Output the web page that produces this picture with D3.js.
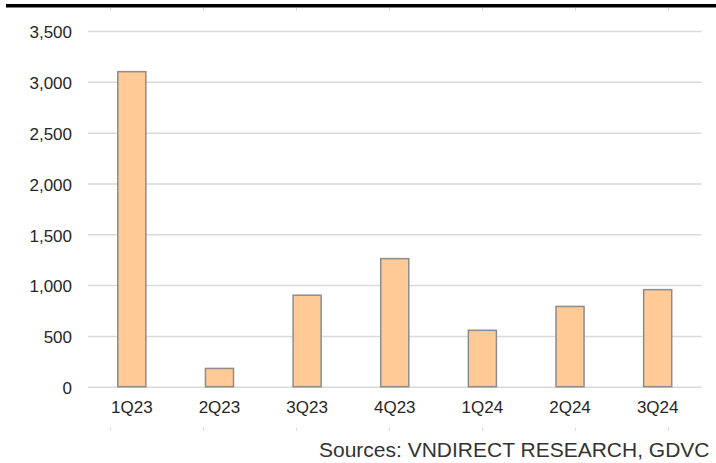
<!DOCTYPE html>
<html>
<head>
<meta charset="utf-8">
<script src="https://cdn.jsdelivr.net/npm/d3@7"></script>
<style>
  html, body { margin: 0; padding: 0; background: #fff; }
  svg { display: block; }
  text { font-family: "Liberation Sans", Arial, sans-serif; }
</style>
</head>
<body>
<svg id="chart" width="716" height="463"></svg>
<script>
// Quarterly values
const categories = ["1Q23", "2Q23", "3Q23", "4Q23", "1Q24", "2Q24", "3Q24"];
const values = [3100, 180, 900, 1260, 555, 790, 955];
const yTicks = [0, 500, 1000, 1500, 2000, 2500, 3000, 3500];
const sourceNote = "Sources: VNDIRECT RESEARCH, GDVC";

const svg = d3.select("#chart");

const plot = { left: 88, right: 701.5, top: 31, bottom: 386.7 };

const x = d3.scaleBand()
  .domain(categories)
  .range([plot.left, plot.right])
  .paddingInner(0.68)
  .paddingOuter(0.34);

const y = d3.scaleLinear()
  .domain([0, 3500])
  .range([plot.bottom, plot.top]);

// Heavy rule across the top
svg.append("rect")
  .attr("x", 6).attr("y", 4)
  .attr("width", 710).attr("height", 3.5)
  .attr("fill", "#000");

// Faint category markers above and below the plot
const markX = d3.scalePoint()
  .domain(categories)
  .range([110.5, 668.5]);
const marks = svg.append("g").attr("fill", "#d4d4d4");
categories.forEach(c => {
  marks.append("rect").attr("x", markX(c) - 0.5).attr("y", 8).attr("width", 1).attr("height", 2.5);
  marks.append("rect").attr("x", markX(c) - 0.5).attr("y", 428).attr("width", 1).attr("height", 2.5);
});

// Horizontal gridlines + y-axis labels
const yAxis = d3.axisLeft(y)
  .tickValues(yTicks)
  .tickSize(-(plot.right - plot.left))
  .tickPadding(16)
  .tickFormat(d3.format(","));

const gy = svg.append("g")
  .attr("transform", `translate(${plot.left},0)`)
  .call(yAxis);
gy.select(".domain").remove();
gy.selectAll(".tick line")
  .attr("stroke", "#d9d9d9")
  .attr("stroke-width", 1.5);
gy.selectAll(".tick text")
  .attr("fill", "#262626")
  .attr("font-size", "17px")
  .attr("dy", "0.4em");

// Bars
svg.append("g")
  .selectAll("rect")
  .data(values)
  .join("rect")
  .attr("x", (d, i) => x(categories[i]))
  .attr("y", d => y(d))
  .attr("width", x.bandwidth())
  .attr("height", d => y(0) - y(d))
  .attr("fill", "#ffca95")
  .attr("stroke", "#8c8c8c")
  .attr("stroke-width", 1.5);

// Category labels
const xAxis = d3.axisBottom(x).tickSize(0).tickPadding(14);
const gx = svg.append("g")
  .attr("transform", `translate(0,${plot.bottom})`)
  .call(xAxis);
gx.select(".domain").remove();
gx.selectAll(".tick text")
  .attr("fill", "#262626")
  .attr("font-size", "17px");

// Source note
svg.append("text")
  .attr("x", 709.5)
  .attr("y", 457.3)
  .attr("text-anchor", "end")
  .attr("font-size", "21px")
  .attr("fill", "#333")
  .text(sourceNote);
</script>
</body>
</html>
